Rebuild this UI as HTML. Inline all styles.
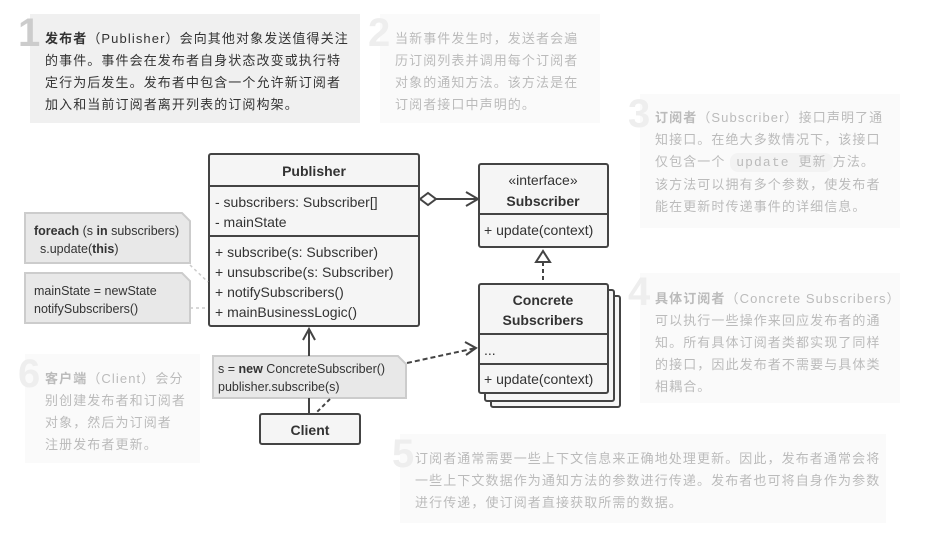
<!DOCTYPE html>
<html><head><meta charset="utf-8"><style>
body{margin:0;width:927px;height:535px;background:#fff;position:relative;overflow:hidden;font-family:"Liberation Sans","Noto Sans CJK SC",sans-serif}
.b{position:absolute;font-size:13px;line-height:22px;white-space:nowrap;letter-spacing:1.1px}
.bg{position:absolute}
.n{position:absolute;font-size:40px;font-weight:bold;line-height:40px;font-family:"Liberation Sans",sans-serif}
svg{position:absolute;left:0;top:0}
svg text{font-family:"Liberation Sans","Noto Sans CJK SC",sans-serif;font-size:14px;fill:#333}
</style></head><body>
<div class="bg" style="left:30px;top:14px;width:330px;height:109px;background:#f0f0f0"></div>
<div class="bg" style="left:380px;top:14px;width:220px;height:109px;background:#fafafa"></div>
<div class="bg" style="left:640px;top:94px;width:260px;height:134px;background:#fafafa"></div>
<div class="bg" style="left:640px;top:273px;width:260px;height:130px;background:#fafafa"></div>
<div class="bg" style="left:400px;top:434px;width:486px;height:89px;background:#fafafa"></div>
<div class="bg" style="left:25px;top:354px;width:175px;height:109px;background:#fafafa"></div>

<div class="n" style="left:18px;top:13px;color:#ccc">1</div>
<div class="n" style="left:368px;top:13px;color:#eee">2</div>
<div class="n" style="left:628px;top:94px;color:#eee">3</div>
<div class="n" style="left:628px;top:272px;color:#eee">4</div>
<div class="n" style="left:392px;top:434px;color:#eee">5</div>
<div class="n" style="left:18px;top:354px;color:#eee">6</div>

<div class="b" style="left:45px;top:28px;color:#333"><b>发布者</b>（Publisher）会向其他对象发送值得关注<br>的事件。事件会在发布者自身状态改变或执行特<br>定行为后发生。发布者中包含一个允许新订阅者<br>加入和当前订阅者离开列表的订阅构架。</div>
<div class="b" style="left:395px;top:28px;color:#bbb">当新事件发生时，发送者会遍<br>历订阅列表并调用每个订阅者<br>对象的通知方法。该方法是在<br>订阅者接口中声明的。</div>
<div class="b" style="left:655px;top:107px;color:#bbb"><b>订阅者</b>（Subscriber）接口声明了通<br>知接口。在绝大多数情况下，该接口<br>仅包含一个 <span style="font-family:'Liberation Mono',monospace;background:#f3f3f3;border-radius:8px;padding:2px 6px">update <span style="font-family:'Liberation Sans','Noto Sans CJK SC',sans-serif">更新</span></span>方法。<br>该方法可以拥有多个参数，使发布者<br>能在更新时传递事件的详细信息。</div>
<div class="b" style="left:655px;top:288px;color:#bbb"><b>具体订阅者</b>（Concrete Subscribers）<br>可以执行一些操作来回应发布者的通<br>知。所有具体订阅者类都实现了同样<br>的接口，因此发布者不需要与具体类<br>相耦合。</div>
<div class="b" style="left:415px;top:448px;color:#bbb">订阅者通常需要一些上下文信息来正确地处理更新。因此，发布者通常会将<br>一些上下文数据作为通知方法的参数进行传递。发布者也可将自身作为参数<br>进行传递，使订阅者直接获取所需的数据。</div>
<div class="b" style="left:45px;top:368px;color:#bbb"><b>客户端</b>（Client）会分<br>别创建发布者和订阅者<br>对象，然后为订阅者<br>注册发布者更新。</div>

<svg width="927" height="535">
<g stroke="#444" stroke-width="2" fill="#f5f5f5">
<rect x="209" y="154" width="210" height="172" rx="2"/>
<line x1="209" y1="186" x2="419" y2="186"/><line x1="209" y1="236" x2="419" y2="236"/>
<rect x="479" y="164" width="129" height="83" rx="2"/>
<line x1="479" y1="214" x2="608" y2="214"/>
<rect x="491" y="296" width="129" height="111" rx="2"/>
<rect x="485" y="290" width="129" height="111" rx="2"/>
<rect x="479" y="284" width="129" height="109" rx="2"/>
<line x1="479" y1="334" x2="608" y2="334"/><line x1="479" y1="364" x2="608" y2="364"/>
<rect x="260" y="414" width="100" height="30" rx="2"/>
</g>
<g stroke="#ccc" stroke-width="2" fill="#e8e8e8">
<path d="M25 213H182L190 221V263H25Z"/><path d="M25 273H182L190 281V323H25Z"/><path d="M213 356H398L406 364V398H213Z"/>
</g>
<g stroke="#444" stroke-width="2" fill="none">
<path d="M420 199L428 193L436 199L428 205Z" fill="#fff"/>
<line x1="436" y1="199" x2="478" y2="199"/><path d="M466 192L478 199L466 206"/>
<path d="M543 251L536 262H550Z" fill="#fff"/>
<line x1="543" y1="262" x2="543" y2="284" stroke-dasharray="4,3"/>
<line x1="309" y1="356" x2="309" y2="329"/><path d="M303 340L309 329L315 340"/>
<line x1="309" y1="398" x2="309" y2="414"/>
<line x1="330" y1="399" x2="316" y2="413" stroke-dasharray="4,3"/>
<line x1="407" y1="363" x2="476" y2="348" stroke-dasharray="5,3"/><path d="M465 342L476 348L466 355"/>
</g>
<g stroke="#ccc" stroke-width="1.5" stroke-dasharray="3,3">
<line x1="190" y1="265" x2="208" y2="282"/><line x1="190" y1="308" x2="208" y2="308"/>
</g>
<text x="314" y="176" text-anchor="middle" font-weight="bold">Publisher</text>
<text x="215" y="207">- subscribers: Subscriber[]</text>
<text x="215" y="227">- mainState</text>
<text x="215" y="257">+ subscribe(s: Subscriber)</text>
<text x="215" y="277">+ unsubscribe(s: Subscriber)</text>
<text x="215" y="297">+ notifySubscribers()</text>
<text x="215" y="317">+ mainBusinessLogic()</text>
<text x="543" y="185" text-anchor="middle">«interface»</text>
<text x="543" y="206" text-anchor="middle" font-weight="bold">Subscriber</text>
<text x="484" y="235" font-size="13">+ update(context)</text>
<text x="543" y="305" text-anchor="middle" font-weight="bold">Concrete</text>
<text x="543" y="325" text-anchor="middle" font-weight="bold">Subscribers</text>
<text x="484" y="355" font-size="13">...</text>
<text x="484" y="384" font-size="13">+ update(context)</text>
<text x="310" y="435" text-anchor="middle" font-weight="bold">Client</text>
<text x="34" y="235" style="font-size:12.5px"><tspan font-weight="bold">foreach</tspan> (s <tspan font-weight="bold">in</tspan> subscribers)</text>
<text x="40" y="253" style="font-size:12.5px">s.update(<tspan font-weight="bold">this</tspan>)</text>
<text x="34" y="295" style="font-size:12.5px">mainState = newState</text>
<text x="34" y="313" style="font-size:12.5px">notifySubscribers()</text>
<text x="218" y="373" style="font-size:12.5px">s = <tspan font-weight="bold">new</tspan> ConcreteSubscriber()</text>
<text x="218" y="391" style="font-size:12.5px">publisher.subscribe(s)</text>
</svg>
</body></html>
